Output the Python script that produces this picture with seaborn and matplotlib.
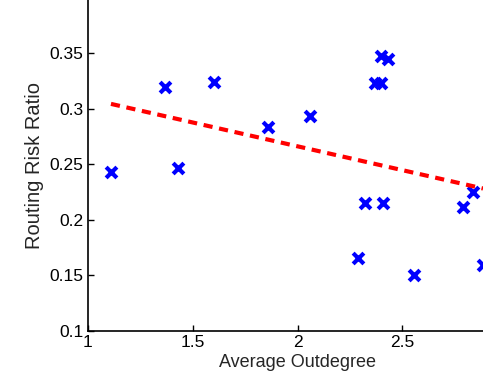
import numpy as np
import pandas as pd
import matplotlib
matplotlib.use('Agg')
import matplotlib.pyplot as plt
import seaborn as sns

# average outdegree vs routing risk ratio
outdegree = [1.11, 1.37, 1.43, 1.60, 1.86, 2.06, 2.37, 2.40, 2.40, 2.43,
             2.32, 2.41, 2.29, 2.555, 2.79, 2.837, 2.885]
risk_ratio = [0.243, 0.320, 0.247, 0.324, 0.284, 0.294, 0.323, 0.323, 0.348, 0.345,
              0.215, 0.215, 0.166, 0.150, 0.212, 0.225, 0.159]

df = pd.DataFrame({'Average Outdegree': outdegree, 'Routing Risk Ratio': risk_ratio})

sns.set_style('ticks')
plt.rcParams['font.family'] = ['Liberation Sans', 'DejaVu Sans']

fig = plt.figure(figsize=(4.83, 3.77), dpi=100)
# axes run a bit past the right edge, like the cropped original
ax = fig.add_axes([0.182, 0.122, 0.868, 0.878])

sns.regplot(data=df, x='Average Outdegree', y='Routing Risk Ratio', ax=ax, ci=None,
            marker='x', color='#0000ff',
            scatter_kws=dict(s=60, linewidths=3, alpha=1),
            line_kws=dict(color='#ff0000', linestyle=(0, (2.2, 1.6)), linewidth=3))

ax.set_xlim(1, 3)
ax.set_ylim(0.1, 0.398)
ax.set_xticks([1, 1.5, 2, 2.5])
ax.set_xticklabels(['1', '1.5', '2', '2.5'])
ax.set_yticks([0.1, 0.15, 0.2, 0.25, 0.3, 0.35])
ax.set_yticklabels(['0.1', '0.15', '0.2', '0.25', '0.3', '0.35'])
ax.tick_params(direction='in', length=4, width=1, labelsize=12.5, colors='black', pad=3)
ax.set_xlabel('Average Outdegree', fontsize=13, labelpad=3)
ax.set_ylabel('Routing Risk Ratio', fontsize=14.5, labelpad=4)
sns.despine(ax=ax)
for s in ['left', 'bottom']:
    ax.spines[s].set_linewidth(1.2)
    ax.spines[s].set_color('black')

fig.savefig('out.png', dpi=100)
